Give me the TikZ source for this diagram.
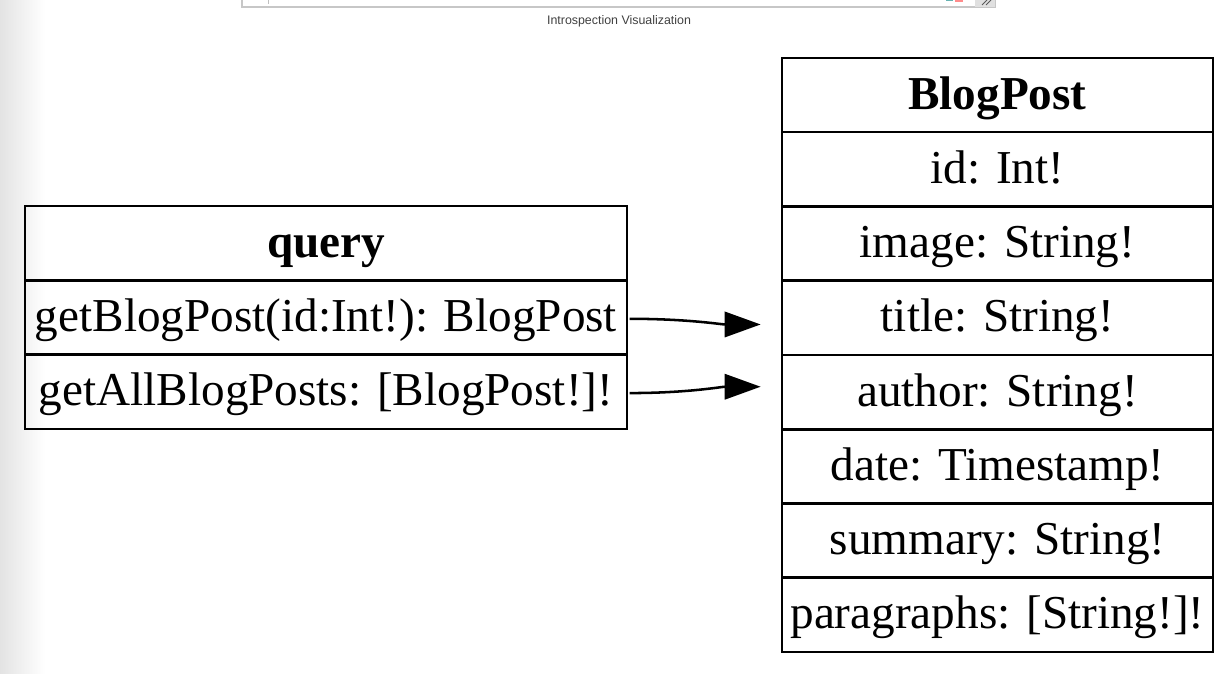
\documentclass[tikz,border=0pt]{standalone}
\usepackage{fontspec}
\setmainfont{Liberation Serif}
\setsansfont{Liberation Sans}
\usetikzlibrary{positioning, arrows.meta}

\tikzset{
  field/.style={draw, line width=2pt, inner sep=0pt, minimum height=55.7pt, text height=27pt, text depth=6pt, font=\fontsize{35.4}{40}\selectfont},
  header/.style={field, font=\fontsize{35.4}{40}\selectfont\bfseries},
  qfield/.style={field, minimum width=451.5pt},
  bfield/.style={field, minimum width=323.3pt},
  link/.style={-{Triangle[length=27pt, width=19pt]}, line width=1.9pt, shorten >=15pt, shorten <=1pt}
}

\begin{document}
\begin{tikzpicture}[x=0.75pt, y=-0.75pt, node distance=55.7pt, on grid]
  \useasboundingbox (0,0) rectangle (1229,674);

  % page edge and search box
  \shade[left color=black!11, right color=white] (0,0) rectangle (45,674);
  \draw[black!22, line width=0.8pt] (242,-5) -- (242,7) -- (995,7) -- (995,-5);
  \draw[black!25, line width=0.5pt] (268,-2) -- (268,4);
  \fill[teal!60] (946,-3) rectangle (953,1.5);
  \fill[red!45] (955,-3) rectangle (963,2.5);
  \fill[black!12] (975,-5) rectangle (995,6.6);
  \draw[black!65, line width=0.6pt] (982,5) -- (987,0) (986,5) -- (991,0);
  \node[font=\sffamily\fontsize{9.3}{11}\selectfont, text=black!75] (cap) at (619,21) {Introspection Visualization};

  % query type
  \node[header, minimum width=451.5pt] (q) at (326,243.2) {query};
  \node[qfield] (q1) [below=of q] {getBlogPost(id:Int!): BlogPost};
  \node[qfield] (q2) [below=of q1] {getAllBlogPosts: [BlogPost!]!};

  % BlogPost type
  \node[header, minimum width=323.3pt] (b) at (997.5,95) {BlogPost};
  \node[bfield] (b1) [below=of b] {id: Int!};
  \node[bfield] (b2) [below=of b1] {image: String!};
  \node[bfield] (b3) [below=of b2] {title: String!};
  \node[bfield] (b4) [below=of b3] {author: String!};
  \node[bfield] (b5) [below=of b4] {date: Timestamp!};
  \node[bfield] (b6) [below=of b5] {summary: String!};
  \node[bfield] (b7) [below=of b6] {paragraphs: [String!]!};

  \path[link]
    ([yshift=-1pt]q1.east) edge[out=0, in=180] ([yshift=-5pt]b3.west)
    ([yshift=-1pt]q2.east) edge[out=0, in=180] ([yshift=4pt]b4.west);

\end{tikzpicture}
\end{document}
